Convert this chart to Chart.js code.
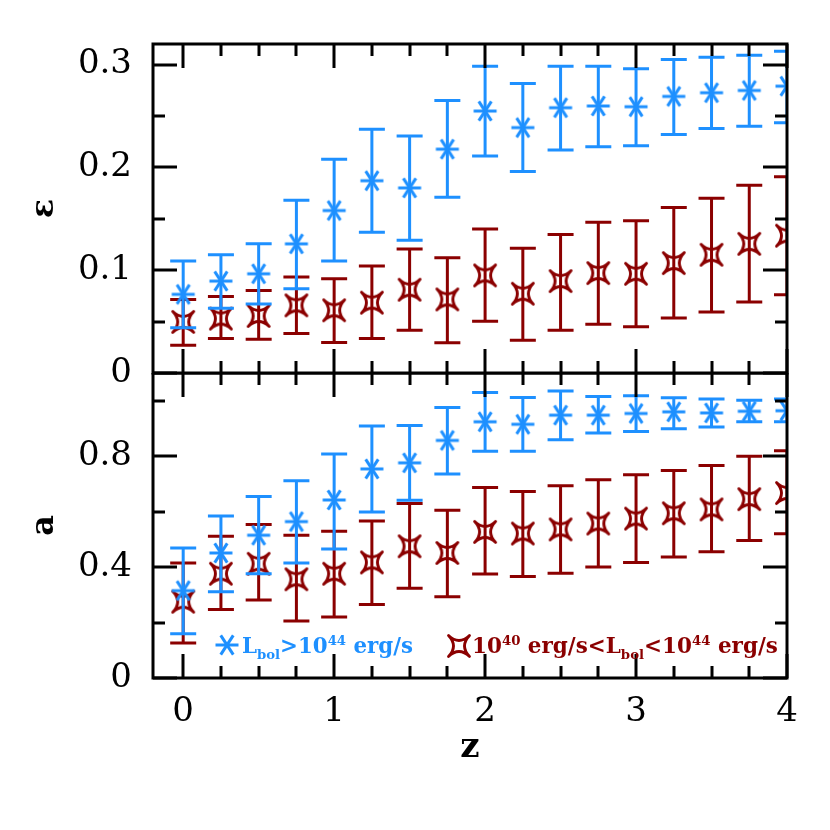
<!DOCTYPE html>
<html><head><meta charset="utf-8">
<script src="https://cdn.jsdelivr.net/npm/chart.js@4/dist/chart.umd.min.js"></script>
<style>
html,body{margin:0;padding:0;background:#fff;width:830px;height:830px;overflow:hidden;position:relative;}
#cTop{position:absolute;left:0;top:0;}
#cBot{position:absolute;left:0;top:373px;}
</style></head><body>
<canvas id="cTop" width="830" height="400"></canvas>
<canvas id="cBot" width="830" height="457"></canvas>
<script>
// ---- data ----
const zValues = [0,0.25,0.5,0.75,1,1.25,1.5,1.75,2,2.25,2.5,2.75,3,3.25,3.5,3.75,4];

const epsBright   = [0.0765,0.0894,0.0965,0.1256,0.158,0.187,0.180,0.2177,0.2548,0.2387,0.258,0.2597,0.259,0.269,0.2726,0.2748,0.279];
const epsBrightLo = [0.044,0.063,0.067,0.082,0.109,0.137,0.129,0.171,0.211,0.196,0.217,0.220,0.221,0.232,0.2377,0.240,0.2435];
const epsBrightHi = [0.109,0.115,0.1256,0.168,0.208,0.237,0.2306,0.265,0.2984,0.2816,0.2984,0.2984,0.296,0.305,0.307,0.309,0.313];

const epsFaint   = [0.0497,0.0529,0.0555,0.0658,0.061,0.0684,0.081,0.0716,0.0949,0.0771,0.0894,0.0972,0.0965,0.1069,0.115,0.1256,0.1336];
const epsFaintLo = [0.027,0.0335,0.0329,0.0384,0.0297,0.0335,0.0416,0.0294,0.0503,0.0319,0.0416,0.0474,0.0449,0.0536,0.0594,0.0691,0.0762];
const epsFaintHi = [0.0716,0.0745,0.0803,0.0933,0.0917,0.104,0.1207,0.112,0.140,0.1214,0.1346,0.1466,0.148,0.161,0.170,0.1827,0.191];

const aBright   = [0.315,0.451,0.515,0.564,0.642,0.754,0.776,0.857,0.924,0.915,0.948,0.948,0.954,0.960,0.956,0.962,0.964];
const aBrightLo = [0.160,0.311,0.376,0.415,0.465,0.599,0.641,0.736,0.818,0.818,0.859,0.884,0.889,0.899,0.905,0.924,0.924];
const aBrightHi = [0.469,0.584,0.655,0.711,0.808,0.909,0.911,0.976,1.030,1.012,1.035,1.015,1.018,1.011,1.006,1.002,1.006];

const aFaint   = [0.275,0.376,0.412,0.356,0.376,0.417,0.475,0.451,0.527,0.521,0.536,0.557,0.575,0.594,0.608,0.645,0.667];
const aFaintLo = [0.126,0.247,0.281,0.206,0.220,0.265,0.324,0.293,0.375,0.366,0.378,0.400,0.417,0.436,0.455,0.496,0.520];
const aFaintHi = [0.415,0.511,0.554,0.515,0.529,0.566,0.629,0.605,0.687,0.673,0.693,0.715,0.733,0.748,0.766,0.800,0.820];

const xTickLabels   = [0,1,2,3,4];
const epsTickLabels = [0,0.1,0.2,0.3];
const aTickLabels   = [0,0.4,0.8];

const xTitle = 'z';
const epsTitle = 'ε';
const aTitle = 'a';
const legendBright = [['L','n'],['bol','sub'],['>10','n'],['44','sup'],[' erg/s','n']];
const legendFaint  = [['10','n'],['40','sup'],[' erg/s<L','n'],['bol','sub'],['<10','n'],['44','sup'],[' erg/s','n']];

// ---- styles ----
const BLUE = '#1E90FF';
const RED = '#8B0000';
const FONT = 'DejaVu Serif';

function makeAsterisk(color){
  const c = document.createElement('canvas'); c.width = 28; c.height = 28;
  const g = c.getContext('2d'); g.strokeStyle = color; g.lineWidth = 3; g.lineCap = 'butt';
  const r = 11.5;
  [0, 57, 123].forEach(d => {
    const t = d*Math.PI/180;
    g.beginPath(); g.moveTo(14 - r*Math.cos(t), 14 - r*Math.sin(t)); g.lineTo(14 + r*Math.cos(t), 14 + r*Math.sin(t)); g.stroke();
  });
  return c;
}
function makeAstroid(color){
  const c = document.createElement('canvas'); c.width = 28; c.height = 28;
  const g = c.getContext('2d'); g.strokeStyle = color; g.lineWidth = 2.8; g.lineJoin = 'round';
  const r = 10.5, k = 0.05*r, cx = 14, cy = 14;
  g.beginPath();
  g.moveTo(cx - r, cy - r);
  g.quadraticCurveTo(cx, cy - k, cx + r, cy - r);
  g.quadraticCurveTo(cx + k, cy, cx + r, cy + r);
  g.quadraticCurveTo(cx, cy + k, cx - r, cy + r);
  g.quadraticCurveTo(cx - k, cy, cx - r, cy - r);
  g.closePath(); g.stroke();
  return c;
}
const starImg = makeAsterisk(BLUE);
const astroidImg = makeAstroid(RED);

function pts(vals){ return zValues.map((z,i)=>({x:z, y:vals[i]})); }

const errorBars = {
  id: 'errorBars',
  beforeDatasetDraw(chart, args) {
    const ds = chart.data.datasets[args.index];
    if (!ds.errLo) return;
    const {ctx, chartArea: a} = chart;
    const x = chart.scales.x, y = chart.scales.y;
    ctx.save();
    ctx.beginPath(); ctx.rect(a.left, a.top, a.right - a.left, a.bottom - a.top); ctx.clip();
    ctx.strokeStyle = ds.borderColor; ctx.lineWidth = 3;
    ds.data.forEach((p, i) => {
      const px = x.getPixelForValue(p.x);
      const lo = y.getPixelForValue(ds.errLo[i]), hi = y.getPixelForValue(ds.errHi[i]);
      ctx.beginPath();
      ctx.moveTo(px, lo); ctx.lineTo(px, hi);
      ctx.moveTo(px - 13, lo); ctx.lineTo(px + 13, lo);
      ctx.moveTo(px - 13, hi); ctx.lineTo(px + 13, hi);
      ctx.stroke();
    });
    ctx.restore();
  }
};

const frameTicks = {
  id: 'frameTicks',
  afterDraw(chart, args, o) {
    const {ctx, chartArea: a} = chart;
    const x = chart.scales.x, y = chart.scales.y;
    ctx.save();
    ctx.strokeStyle = '#000'; ctx.lineWidth = 3; ctx.lineCap = 'butt';
    const eps = 1e-6;
    for (let k = Math.ceil(x.min / o.xStep - eps); k * o.xStep <= x.max + eps; k++) {
      const v = k * o.xStep; const px = Math.round(x.getPixelForValue(v));
      const major = Math.abs(v / o.xMajor - Math.round(v / o.xMajor)) < 1e-6;
      const L = major ? 24 : 12;
      ctx.beginPath();
      ctx.moveTo(px, a.bottom); ctx.lineTo(px, a.bottom - L);
      ctx.moveTo(px, a.top); ctx.lineTo(px, a.top + L);
      ctx.stroke();
    }
    for (let k = Math.ceil(y.min / o.yStep - eps); k * o.yStep <= y.max + eps; k++) {
      const v = k * o.yStep; const py = Math.round(y.getPixelForValue(v));
      const major = Math.abs(v / o.yMajor - Math.round(v / o.yMajor)) < 1e-6;
      const L = major ? 24 : 12;
      ctx.beginPath();
      ctx.moveTo(a.left, py); ctx.lineTo(a.left + L, py);
      ctx.moveTo(a.right, py); ctx.lineTo(a.right - L, py);
      ctx.stroke();
    }
    ctx.strokeRect(a.left, a.top, a.right - a.left, a.bottom - a.top);
    ctx.restore();
  }
};

function drawRich(ctx, segs, x0, baseline, targetW, color) {
  const base = 22;
  const measure = (s) => {
    let w = 0;
    segs.forEach(([t, k]) => {
      const fs = k === 'n' ? base * s : base * s * 0.62;
      ctx.font = 'bold ' + fs + 'px "' + FONT + '"';
      w += ctx.measureText(t).width;
    });
    return w;
  };
  const s = targetW / measure(1);
  let x = x0;
  ctx.fillStyle = color; ctx.textBaseline = 'alphabetic'; ctx.textAlign = 'left';
  segs.forEach(([t, k]) => {
    const fs = k === 'n' ? base * s : base * s * 0.62;
    ctx.font = 'bold ' + fs + 'px "' + FONT + '"';
    let yy = baseline;
    if (k === 'sub') yy += base * s * 0.3;
    if (k === 'sup') yy -= base * s * 0.38;
    ctx.fillText(t, x, yy);
    x += ctx.measureText(t).width;
  });
}

const legendPlugin = {
  id: 'richLegend',
  afterDraw(chart) {
    const ctx = chart.ctx;
    ctx.save();
    ctx.drawImage(starImg, 227 - 14, 272 - 14);
    drawRich(ctx, legendBright, 242, 280, 171, BLUE);
    ctx.drawImage(astroidImg, 459 - 14, 273 - 14);
    drawRich(ctx, legendFaint, 472, 280, 306, RED);
    ctx.restore();
  }
};

function noPad(s) { s.paddingTop = 0; s.paddingBottom = 0; s.paddingLeft = 0; s.paddingRight = 0; }

function yAxis(min, max, ticks, title) {
  return {
    type: 'linear', min, max,
    afterBuildTicks: s => { s.ticks = ticks.map(v => ({value: v})); },
    afterFit: s => { s.width = 153; noPad(s); },
    grid: {display: false, drawTicks: false}, border: {display: false},
    ticks: {color: '#000', autoSkip: false, font: {family: FONT, size: 34}, padding: 21, callback: v => String(v)},
    title: {display: true, text: title, color: '#000', font: {family: FONT, size: 32, weight: 'bold'}, padding: {top: 25, bottom: 0}}
  };
}

function datasets(bv, blo, bhi, rv, rlo, rhi) {
  return [
    {label: 'bright', data: pts(bv), errLo: blo, errHi: bhi, borderColor: BLUE, backgroundColor: BLUE,
     pointStyle: starImg, pointRadius: 12, showLine: false, clip: 0},
    {label: 'faint', data: pts(rv), errLo: rlo, errHi: rhi, borderColor: RED, backgroundColor: RED,
     pointStyle: astroidImg, pointRadius: 12, showLine: false, clip: 0}
  ];
}

new Chart(document.getElementById('cTop'), {
  type: 'scatter',
  data: {datasets: datasets(epsBright, epsBrightLo, epsBrightHi, epsFaint, epsFaintLo, epsFaintHi)},
  options: {
    responsive: false, animation: false, devicePixelRatio: 1, events: [],
    layout: {autoPadding: false, padding: {top: 44, right: 43, bottom: 27, left: 0}},
    plugins: {legend: {display: false}, tooltip: {enabled: false},
      frameTicks: {xStep: 0.25, xMajor: 1, yStep: 0.05, yMajor: 0.1}},
    scales: {
      x: {type: 'linear', min: -0.2, max: 4, display: false},
      y: yAxis(0, 0.32, epsTickLabels, epsTitle)
    }
  },
  plugins: [errorBars, frameTicks]
});

new Chart(document.getElementById('cBot'), {
  type: 'scatter',
  data: {datasets: datasets(aBright, aBrightLo, aBrightHi, aFaint, aFaintLo, aFaintHi)},
  options: {
    responsive: false, animation: false, devicePixelRatio: 1, events: [],
    layout: {autoPadding: false, padding: {top: 0, right: 43, bottom: 0, left: 0}},
    plugins: {legend: {display: false}, tooltip: {enabled: false},
      frameTicks: {xStep: 0.25, xMajor: 1, yStep: 0.2, yMajor: 0.4}},
    scales: {
      x: {type: 'linear', min: -0.2, max: 4,
        afterBuildTicks: s => { s.ticks = xTickLabels.map(v => ({value: v})); },
        afterFit: s => { s.height = 152; noPad(s); },
        grid: {display: false, drawTicks: false}, border: {display: false},
        ticks: {color: '#000', autoSkip: false, maxRotation: 0, font: {family: FONT, size: 34}, padding: 14, callback: v => String(v)},
        title: {display: true, text: xTitle, color: '#000', font: {family: FONT, size: 34, weight: 'bold'}, padding: {top: 0, bottom: 61}}
      },
      y: yAxis(0, 1.1, aTickLabels, aTitle)
    }
  },
  plugins: [errorBars, frameTicks, legendPlugin]
});
</script>
</body></html>
